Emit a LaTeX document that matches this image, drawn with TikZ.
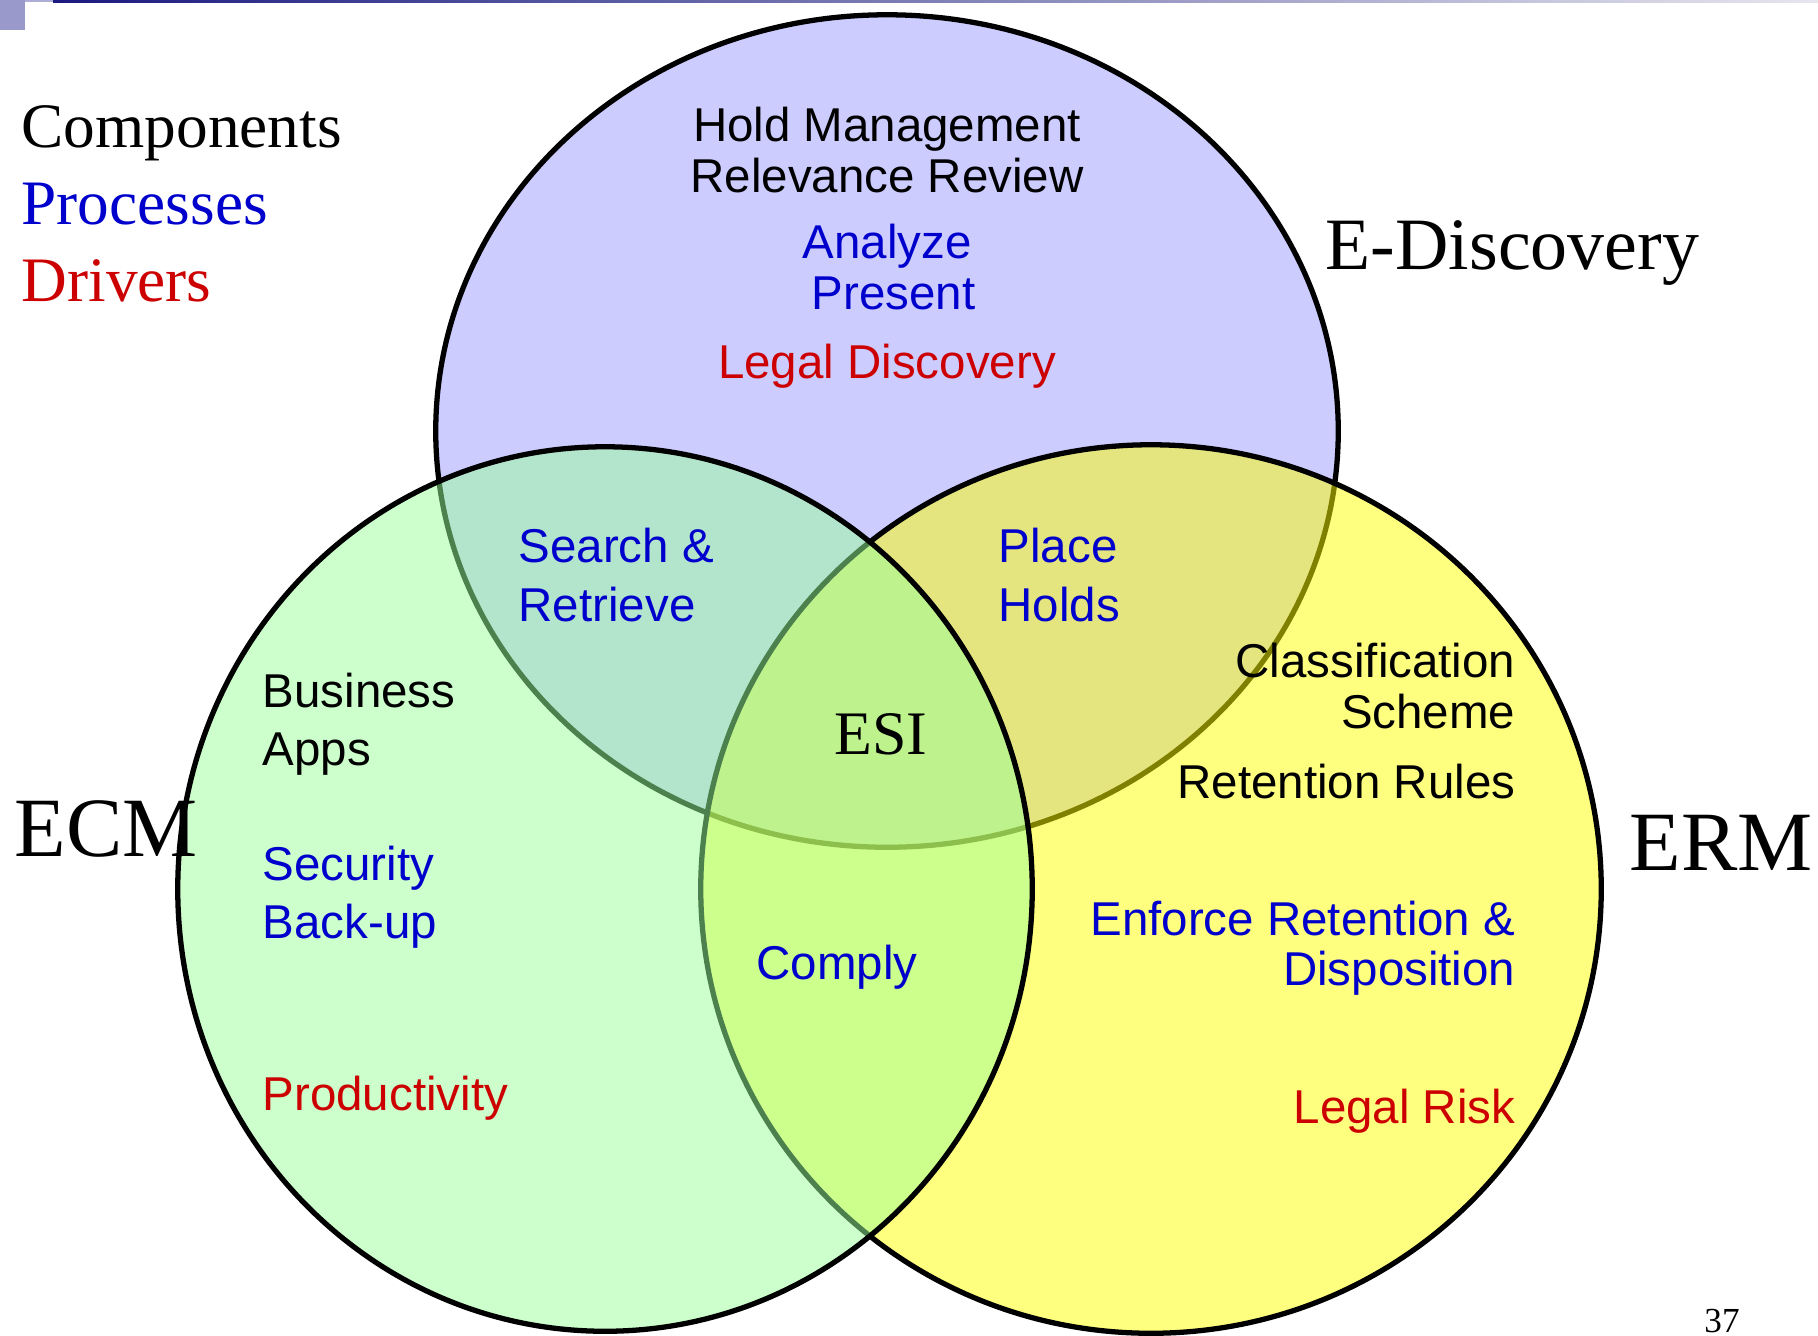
\documentclass[tikz,border=0pt]{standalone}
\usepackage{fontspec}
\setmainfont{Liberation Serif}
\setsansfont{Liberation Sans}
\usepackage{tikz}
\usetikzlibrary{positioning}

\definecolor{slideblue}{RGB}{204,204,255}
\definecolor{slidegreen}{RGB}{153,255,153}
\definecolor{slideyellow}{RGB}{255,255,0}
\definecolor{proccol}{RGB}{0,0,204}
\definecolor{drvcol}{RGB}{204,0,0}
\definecolor{barnavy}{RGB}{26,26,128}
\definecolor{barlight}{RGB}{230,230,238}
\definecolor{tabcol}{RGB}{153,153,204}

\begin{document}
\begin{tikzpicture}[x=0.01cm,y=-0.01cm,node distance=0.77cm,
                    set/.style={draw=black,line width=1.5pt},
                    setname/.style={font=\fontsize{24}{28}\selectfont,inner sep=0pt},
                    legend/.style={font=\fontsize{18}{22}\selectfont,inner sep=0pt,anchor=base west},
                    item/.style={font=\sffamily\fontsize{13.5}{16.6}\selectfont,inner sep=0pt},
                    tight item/.style={item,font=\sffamily\fontsize{13.5}{14.3}\selectfont},
                    proc/.style={text=proccol},
                    drv/.style={text=drvcol}]
  \useasboundingbox (0,0) rectangle (1818,1335);
  % slide bits
  \fill[tabcol] (0,0) rectangle (25,30);
  \fill[tabcol!80] (25,0) rectangle (53,2);
  \shade[left color=barnavy,right color=barlight] (53,0) rectangle (1818,2.5);
  % the three sets
  \draw[set,fill=slideblue] (887,431) ellipse [x radius=4.51cm,y radius=4.16cm];
  \draw[set,fill=slideyellow,fill opacity=0.5] (1151,889) ellipse [x radius=4.50cm,y radius=4.44cm];
  \draw[set,fill=slidegreen,fill opacity=0.5] (605,889) ellipse [x radius=4.27cm,y radius=4.42cm];
  % legend
  \node[legend] (comp) at (21,147) {Components};
  \node[legend,proc] (procs) [below=of comp.base west,anchor=base west] {Processes};
  \node[legend,drv] (drivers) [below=of procs.base west,anchor=base west] {Drivers};
  % set names
  \node[setname,font=\fontsize{21}{25}\selectfont,anchor=west] (edisc) at (1325,253) {E-Discovery};
  \node[setname,anchor=west] (ecm) at (14,829) {ECM};
  \node[setname,anchor=west] (erm) at (1629,843) {ERM};
  \node[setname,font=\fontsize{17.6}{20}\selectfont] (esi) at (881,734) {ESI};
  % E-Discovery
  \node[tight item,align=center] (hold) at (887,150) {Hold Management\\Relevance Review};
  \node[tight item,proc,align=center] (analyze) at (887,267) {Analyze\\\hspace*{0.28em}Present};
  \node[item,drv] (legaldisc) at (887,366) {Legal Discovery};
  % overlaps
  \node[item,proc,align=left,anchor=west] (search) at (518,575) {Search \&\\Retrieve};
  \node[item,proc,align=left,anchor=west] (holds) at (998,575) {Place\\Holds};
  \node[item,proc] (comply) at (837,967) {Comply};
  % ECM
  \node[item,align=left,anchor=west] (apps) at (262,724) {Business\\Apps};
  \node[item,proc,align=left,anchor=west] (security) at (262,897) {Security\\Back-up};
  \node[item,drv,anchor=west] (prod) at (262,1098) {Productivity};
  % ERM
  \node[tight item,align=right,anchor=east] (scheme) at (1516,686) {Classification\\Scheme};
  \node[item,anchor=east] (rules) at (1516,782) {Retention Rules};
  \node[tight item,proc,align=right,anchor=east] (enforce) at (1516,948) {Enforce Retention \&\\Disposition};
  \node[item,drv,anchor=east] (risk) at (1516,1111) {Legal Risk};
  % page number
  \node[font=\fontsize{10}{12}\selectfont,inner sep=0pt] (page) at (1722,1321) {37};
\end{tikzpicture}
\end{document}
